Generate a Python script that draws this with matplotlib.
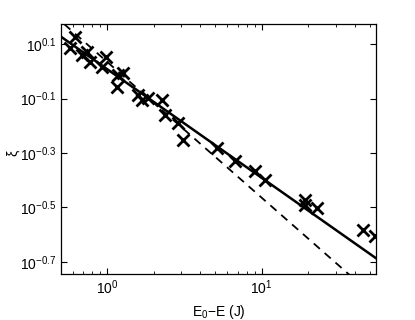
import numpy as np
import matplotlib
matplotlib.use('Agg')
import matplotlib.pyplot as plt
from matplotlib.ticker import LogLocator, NullFormatter, FixedLocator

plt.rcParams['font.family'] = ['Liberation Sans', 'DejaVu Sans']
plt.rcParams['mathtext.fontset'] = 'custom'
plt.rcParams['mathtext.rm'] = 'Liberation Sans'
plt.rcParams['mathtext.it'] = 'Liberation Sans:italic'

# measured points
energia = [0.621, 0.577, 0.686, 0.746, 0.776, 0.924, 0.981, 1.183, 1.275, 1.155,
           1.594, 1.676, 1.849, 2.258, 2.371, 2.890, 3.113, 5.117, 6.72, 9.05,
           10.50, 19.05, 19.05, 22.88, 44.98, 54.0]
xi = [1.336, 1.217, 1.150, 1.183, 1.087, 1.042, 1.128, 0.971, 0.985, 0.880,
      0.820, 0.786, 0.798, 0.786, 0.693, 0.646, 0.561, 0.523, 0.467, 0.429,
      0.400, 0.338, 0.324, 0.315, 0.262, 0.249]

# power-law fits  xi = a * x^b
ajuste_a, ajuste_b = 1.02, -0.40
teoria_a, teoria_b = 1.085, -0.50

ytick_exp = [0.1, -0.1, -0.3, -0.5, -0.7]

fig = plt.figure(figsize=(4.15, 3.2), dpi=100)
ax = fig.add_axes([0.147, 0.144, 0.759, 0.781])

xx = np.logspace(np.log10(0.45), np.log10(60), 200)
ax.plot(xx, ajuste_a * xx ** ajuste_b, 'k-', lw=1.8)
ax.plot(xx, teoria_a * xx ** teoria_b, 'k--', lw=1.3, dashes=(4.5, 3.5))
ax.plot(energia, xi, 'kx', ms=8.5, mew=2)

ax.set_xscale('log')
ax.set_yscale('log')
ax.set_xlim(0.504, 54.8)
ax.set_ylim(0.180, 1.494)

ax.xaxis.set_major_locator(FixedLocator([1, 10]))
ax.set_xticklabels(['$10^{0}$', '$10^{1}$'])
ax.xaxis.set_minor_locator(LogLocator(base=10, subs=np.arange(2, 10)))
ax.xaxis.set_minor_formatter(NullFormatter())

ax.yaxis.set_major_locator(FixedLocator([10 ** e for e in ytick_exp]))
ax.set_yticklabels(['$10^{%s}$' % ('%.1f' % e).replace('-', '\u2212') for e in ytick_exp])
ax.yaxis.set_minor_locator(FixedLocator([]))

ax.tick_params(which='both', direction='in', top=True, right=True, labelsize=10)
ax.tick_params(which='major', length=4)
ax.tick_params(which='minor', length=2)
for s in ax.spines.values():
    s.set_linewidth(0.9)

ax.set_xlabel('E$_0$\u2212E (J)', fontsize=10)
ax.set_ylabel('\u03be', fontsize=10)
ax.yaxis.set_label_coords(-0.13, 0.484)

fig.savefig('out.png', dpi=100)
